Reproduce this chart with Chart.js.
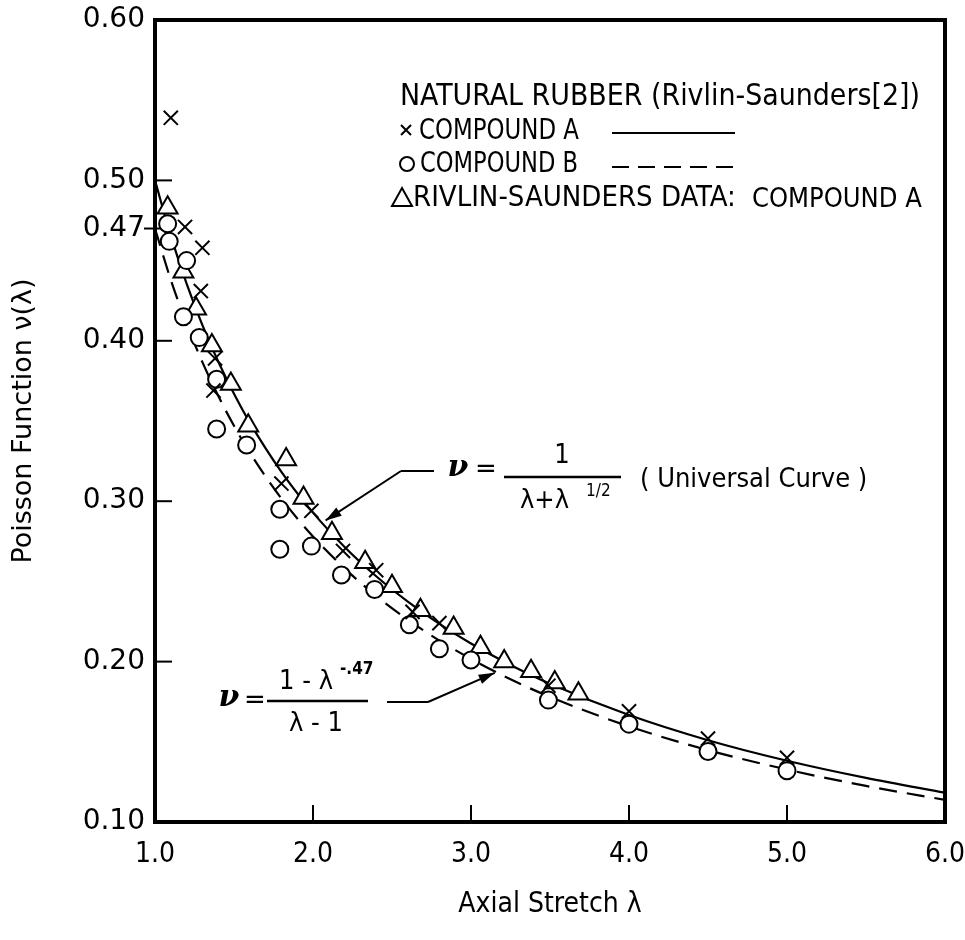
<!DOCTYPE html>
<html>
<head>
<meta charset="utf-8">
<script src="https://cdn.jsdelivr.net/npm/chart.js@4.4.1/dist/chart.umd.min.js"></script>
<style>
html,body{margin:0;padding:0;background:#fff;}
#wrap{width:965px;height:940px;}
</style>
</head>
<body>
<div id="wrap"><canvas id="c" width="965" height="940"></canvas></div>
<script>
// ---- data ----
const xTickValues = [1, 2, 3, 4, 5, 6];
const yTickValues = [0.10, 0.20, 0.30, 0.40, 0.47, 0.50, 0.60];

const curveLambda    = [1.0, 1.1, 1.2, 1.3, 1.4, 1.5, 1.6, 1.8, 2.0, 2.2, 2.4, 2.6, 2.8, 3.0, 3.25, 3.5, 4.0, 4.5, 5.0, 5.5, 6.0];
const universalCurve = [0.500, 0.4654, 0.4357, 0.4098, 0.3871, 0.3670, 0.3490, 0.3183, 0.2929, 0.2715, 0.2532, 0.2374, 0.2235, 0.2113, 0.1979, 0.1862, 0.1667, 0.1510, 0.1382, 0.1275, 0.1183];
const compoundBCurve = [0.470, 0.4380, 0.4106, 0.3867, 0.3657, 0.3470, 0.3303, 0.3017, 0.2780, 0.2581, 0.2409, 0.2261, 0.2131, 0.2017, 0.1890, 0.1780, 0.1596, 0.1448, 0.1327, 0.1225, 0.1138];

const compoundAX = [1.10, 1.19, 1.30, 1.29, 1.38, 1.37, 1.80, 1.99, 2.19, 2.40, 2.63, 2.80, 3.49, 4.0, 4.5, 5.0];
const compoundAY = [0.539, 0.471, 0.458, 0.431, 0.389, 0.369, 0.311, 0.294, 0.269, 0.257, 0.231, 0.224, 0.185, 0.169, 0.152, 0.140];

const compoundBX = [1.08, 1.09, 1.20, 1.18, 1.28, 1.39, 1.39, 1.58, 1.79, 1.79, 1.99, 2.18, 2.39, 2.61, 2.80, 3.00, 3.49, 4.0, 4.5, 5.0];
const compoundBY = [0.473, 0.462, 0.450, 0.415, 0.402, 0.376, 0.345, 0.335, 0.295, 0.270, 0.272, 0.254, 0.245, 0.223, 0.208, 0.201, 0.176, 0.161, 0.144, 0.132];

const rivlinX = [1.08, 1.18, 1.26, 1.36, 1.48, 1.59, 1.83, 1.94, 2.12, 2.33, 2.50, 2.68, 2.89, 3.06, 3.21, 3.38, 3.53, 3.68];
const rivlinY = [0.483, 0.443, 0.420, 0.397, 0.373, 0.347, 0.326, 0.302, 0.280, 0.262, 0.247, 0.232, 0.221, 0.209, 0.200, 0.194, 0.187, 0.180];

// arrow tips of the two formula labels (data coordinates)
const universalArrowTip = [2.08, 0.288];
const compoundBArrowTip = [3.15, 0.193];

// ---- helpers ----
const pts = (xs, ys) => xs.map((x, i) => ({x: x, y: ys[i]}));
const COND = '"DejaVu Sans Condensed", "Liberation Sans Narrow", "DejaVu Sans", sans-serif';
const WIDE = '"DejaVu Sans", "Noto Sans", sans-serif';
const SERIF = '"DejaVu Serif", "Liberation Serif", serif';

function arrow(ctx, x0, y0, x1, y1) {
  ctx.beginPath(); ctx.moveTo(x0, y0); ctx.lineTo(x1, y1); ctx.stroke();
  const a = Math.atan2(y1 - y0, x1 - x0), L = 16, W = 5;
  ctx.beginPath();
  ctx.moveTo(x1, y1);
  ctx.lineTo(x1 - L*Math.cos(a) + W*Math.sin(a), y1 - L*Math.sin(a) - W*Math.cos(a));
  ctx.lineTo(x1 - L*Math.cos(a) - W*Math.sin(a), y1 - L*Math.sin(a) + W*Math.cos(a));
  ctx.closePath(); ctx.fill();
}

const decorPlugin = {
  id: 'decor',
  afterDraw(chart) {
    const {ctx, chartArea: a, scales: {x, y}} = chart;
    ctx.save();
    ctx.strokeStyle = '#000'; ctx.fillStyle = '#000';
    // frame
    ctx.lineWidth = 4;
    ctx.strokeRect(a.left, a.top, a.right - a.left, a.bottom - a.top);
    // inward tick marks
    ctx.lineWidth = 2;
    yTickValues.forEach(v => {
      if (v <= 0.10 || v >= 0.60) return;
      const py = y.getPixelForValue(v);
      ctx.beginPath();
      if (Math.abs(v - 0.47) < 1e-6) { ctx.moveTo(a.left - 11, py); ctx.lineTo(a.left + 6, py); }
      else { ctx.moveTo(a.left, py); ctx.lineTo(a.left + 17, py); }
      ctx.stroke();
    });
    xTickValues.forEach(v => {
      if (v <= 1 || v >= 6) return;
      const px = x.getPixelForValue(v);
      ctx.beginPath(); ctx.moveTo(px, a.bottom); ctx.lineTo(px, a.bottom - 17); ctx.stroke();
    });

    // ---- legend block ----
    ctx.textBaseline = 'middle'; ctx.textAlign = 'left';
    ctx.font = '30px ' + COND;
    ctx.fillText('NATURAL RUBBER (Rivlin-Saunders[2])', 400, 97, 520);
    // x marker
    ctx.lineWidth = 2;
    ctx.beginPath(); ctx.moveTo(401, 125); ctx.lineTo(411, 135); ctx.moveTo(411, 125); ctx.lineTo(401, 135); ctx.stroke();
    ctx.font = '29px ' + COND;
    ctx.fillText('COMPOUND A', 419, 131, 160);
    ctx.beginPath(); ctx.moveTo(612, 133); ctx.lineTo(735, 133); ctx.stroke();
    // circle marker
    ctx.beginPath(); ctx.arc(407, 164, 7, 0, Math.PI*2); ctx.stroke();
    ctx.fillText('COMPOUND B', 420, 164, 158);
    ctx.setLineDash([17, 9]);
    ctx.beginPath(); ctx.moveTo(612, 167); ctx.lineTo(735, 167); ctx.stroke();
    ctx.setLineDash([]);
    // triangle marker
    ctx.beginPath(); ctx.moveTo(402, 188); ctx.lineTo(412, 206); ctx.lineTo(392, 206); ctx.closePath(); ctx.stroke();
    ctx.fillText('RIVLIN-SAUNDERS DATA:', 413, 198, 330);
    ctx.font = '27px ' + COND;
    ctx.fillText('COMPOUND A', 752, 200, 180);

    // ---- universal curve formula ----
    ctx.font = 'italic bold 30px ' + SERIF;
    ctx.textAlign = 'center';
    ctx.fillText('\u03BD', 458, 468);
    ctx.font = '26px ' + WIDE;
    ctx.fillText('=', 486, 470);
    ctx.lineWidth = 2.5;
    ctx.beginPath(); ctx.moveTo(504, 477); ctx.lineTo(621, 477); ctx.stroke();
    ctx.font = '27px ' + COND;
    ctx.fillText('1', 562, 456);
    ctx.textAlign = 'left';
    ctx.fillText('\u03BB+\u03BB', 520, 501);
    ctx.font = '17px ' + COND;
    ctx.fillText('1/2', 586, 492);
    ctx.font = '27px ' + COND;
    ctx.fillText('( Universal Curve )', 640, 480, 232);
    ctx.lineWidth = 2;
    ctx.beginPath(); ctx.moveTo(434, 471); ctx.lineTo(401, 471); ctx.stroke();
    arrow(ctx, 401, 471, x.getPixelForValue(universalArrowTip[0]), y.getPixelForValue(universalArrowTip[1]));

    // ---- compound B formula ----
    ctx.textAlign = 'center';
    ctx.font = 'italic bold 30px ' + SERIF;
    ctx.fillText('\u03BD', 229, 698);
    ctx.font = '26px ' + WIDE;
    ctx.fillText('=', 255, 701);
    ctx.lineWidth = 2.5;
    ctx.beginPath(); ctx.moveTo(267, 701); ctx.lineTo(368, 701); ctx.stroke();
    ctx.textAlign = 'left';
    ctx.font = '27px ' + COND;
    ctx.fillText('1 - \u03BB', 279, 682);
    ctx.font = 'bold 17px ' + COND;
    ctx.fillText('-.47', 340, 670);
    ctx.font = '27px ' + COND;
    ctx.fillText('\u03BB - 1', 289, 724);
    ctx.lineWidth = 2;
    ctx.beginPath(); ctx.moveTo(387, 702); ctx.lineTo(428, 702); ctx.stroke();
    arrow(ctx, 428, 702, x.getPixelForValue(compoundBArrowTip[0]), y.getPixelForValue(compoundBArrowTip[1]));
    ctx.restore();
  }
};

const markerCommon = {showLine: false, borderColor: '#000', backgroundColor: '#fff', borderWidth: 2, order: 1};

new Chart(document.getElementById('c'), {
  type: 'scatter',
  data: {
    datasets: [
      Object.assign({label: 'COMPOUND A', data: pts(compoundAX, compoundAY), pointStyle: 'crossRot', pointRadius: 10}, markerCommon),
      Object.assign({label: 'COMPOUND B', data: pts(compoundBX, compoundBY), pointStyle: 'circle', pointRadius: 8.5}, markerCommon),
      Object.assign({label: 'RIVLIN-SAUNDERS DATA: COMPOUND A', data: pts(rivlinX, rivlinY), pointStyle: 'triangle', pointRadius: 11.5}, markerCommon),
      {label: 'Universal Curve', data: pts(curveLambda, universalCurve), showLine: true, borderColor: '#000', borderWidth: 2.2, pointRadius: 0, cubicInterpolationMode: 'monotone', fill: false, order: 2},
      {label: 'Compound B curve', data: pts(curveLambda, compoundBCurve), showLine: true, borderColor: '#000', borderWidth: 2.2, borderDash: [18, 10], pointRadius: 0, cubicInterpolationMode: 'monotone', fill: false, order: 2}
    ]
  },
  options: {
    responsive: false,
    animation: false,
    devicePixelRatio: 1,
    layout: {padding: {left: 0, right: 20, top: 20, bottom: 0}},
    plugins: {legend: {display: false}, tooltip: {enabled: false}},
    scales: {
      x: {
        type: 'linear', min: 1, max: 6,
        afterBuildTicks: s => { s.ticks = xTickValues.map(v => ({value: v})); },
        afterFit: s => { s.height = 118; s.paddingLeft = 0; s.paddingRight = 0; },
        ticks: {callback: v => Number(v).toFixed(1), color: '#000', font: {family: COND, size: 28}, padding: 16, maxRotation: 0, autoSkip: false},
        grid: {display: false, drawTicks: false},
        border: {display: false},
        title: {display: true, text: 'Axial Stretch \u03BB', color: '#000', font: {family: COND, size: 28}, padding: {top: 0, bottom: 18}}
      },
      y: {
        type: 'linear', min: 0.10, max: 0.60,
        afterBuildTicks: s => { s.ticks = yTickValues.map(v => ({value: v})); },
        afterFit: s => { s.width = 155; s.paddingTop = 0; s.paddingBottom = 0; },
        ticks: {callback: v => Number(v).toFixed(2), color: '#000', font: {family: WIDE, size: 28}, padding: 10, autoSkip: false},
        grid: {display: false, drawTicks: false},
        border: {display: false},
        title: {display: true, text: 'Poisson Function \u03BD(\u03BB)', color: '#000', font: {family: WIDE, size: 27}, padding: {top: 8, bottom: 0}}
      }
    }
  },
  plugins: [decorPlugin]
});
</script>
</body>
</html>
